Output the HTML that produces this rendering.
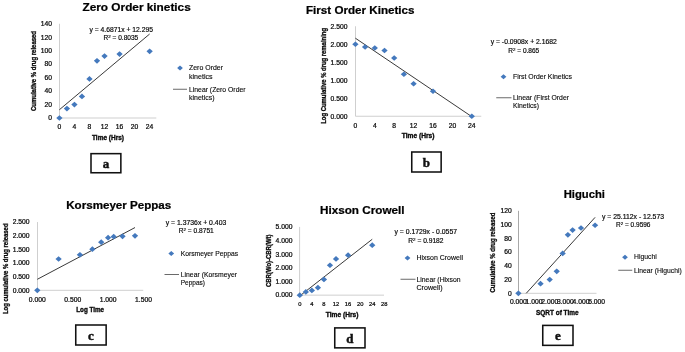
<!DOCTYPE html>
<html lang="en"><head><meta charset="utf-8"><title>Release kinetics</title>
<style>
html,body{margin:0;padding:0;background:#fff;}
body{width:685px;height:352px;overflow:hidden;}
svg{display:block;font-family:"Liberation Sans",sans-serif;filter:blur(0.35px);}
</style></head><body>
<svg width="685" height="352" viewBox="0 0 685 352">
<rect width="685" height="352" fill="#fff"/>
<text x="82.50" y="10.90" font-size="10.6" font-weight="bold" fill="#000" stroke="#000" stroke-width="0.22" textLength="108.25" lengthAdjust="spacingAndGlyphs">Zero Order kinetics</text>
<text transform="translate(36.40 111.00) rotate(-90)" x="0" y="0" font-size="6.8" font-weight="bold" fill="#0a0a0a" stroke="#0a0a0a" stroke-width="0.32" textLength="80.00" lengthAdjust="spacingAndGlyphs">Cumulative % drug released</text>
<line x1="59.50" y1="23.78" x2="59.50" y2="118.00" stroke="#cfcfcf" stroke-width="1"/>
<line x1="59.50" y1="118.00" x2="156.30" y2="118.00" stroke="#cfcfcf" stroke-width="1"/>
<text x="48.25" y="120.30" font-size="6.3" fill="#0a0a0a" stroke="#0a0a0a" stroke-width="0.22" textLength="3.75" lengthAdjust="spacingAndGlyphs">0</text>
<text x="44.50" y="106.84" font-size="6.3" fill="#0a0a0a" stroke="#0a0a0a" stroke-width="0.22" textLength="7.50" lengthAdjust="spacingAndGlyphs">20</text>
<text x="44.50" y="93.38" font-size="6.3" fill="#0a0a0a" stroke="#0a0a0a" stroke-width="0.22" textLength="7.50" lengthAdjust="spacingAndGlyphs">40</text>
<text x="44.50" y="79.92" font-size="6.3" fill="#0a0a0a" stroke="#0a0a0a" stroke-width="0.22" textLength="7.50" lengthAdjust="spacingAndGlyphs">60</text>
<text x="44.50" y="66.46" font-size="6.3" fill="#0a0a0a" stroke="#0a0a0a" stroke-width="0.22" textLength="7.50" lengthAdjust="spacingAndGlyphs">80</text>
<text x="40.75" y="53.00" font-size="6.3" fill="#0a0a0a" stroke="#0a0a0a" stroke-width="0.22" textLength="11.25" lengthAdjust="spacingAndGlyphs">100</text>
<text x="40.75" y="39.54" font-size="6.3" fill="#0a0a0a" stroke="#0a0a0a" stroke-width="0.22" textLength="11.25" lengthAdjust="spacingAndGlyphs">120</text>
<text x="40.75" y="26.08" font-size="6.3" fill="#0a0a0a" stroke="#0a0a0a" stroke-width="0.22" textLength="11.25" lengthAdjust="spacingAndGlyphs">140</text>
<text x="57.52" y="129.20" font-size="6.3" fill="#0a0a0a" stroke="#0a0a0a" stroke-width="0.22" textLength="3.75" lengthAdjust="spacingAndGlyphs">0</text>
<text x="72.56" y="129.20" font-size="6.3" fill="#0a0a0a" stroke="#0a0a0a" stroke-width="0.22" textLength="3.75" lengthAdjust="spacingAndGlyphs">4</text>
<text x="87.60" y="129.20" font-size="6.3" fill="#0a0a0a" stroke="#0a0a0a" stroke-width="0.22" textLength="3.75" lengthAdjust="spacingAndGlyphs">8</text>
<text x="100.77" y="129.20" font-size="6.3" fill="#0a0a0a" stroke="#0a0a0a" stroke-width="0.22" textLength="7.50" lengthAdjust="spacingAndGlyphs">12</text>
<text x="115.81" y="129.20" font-size="6.3" fill="#0a0a0a" stroke="#0a0a0a" stroke-width="0.22" textLength="7.50" lengthAdjust="spacingAndGlyphs">16</text>
<text x="130.85" y="129.20" font-size="6.3" fill="#0a0a0a" stroke="#0a0a0a" stroke-width="0.22" textLength="7.50" lengthAdjust="spacingAndGlyphs">20</text>
<text x="145.89" y="129.20" font-size="6.3" fill="#0a0a0a" stroke="#0a0a0a" stroke-width="0.22" textLength="7.50" lengthAdjust="spacingAndGlyphs">24</text>
<line x1="59.40" y1="109.73" x2="149.64" y2="34.02" stroke="#222" stroke-width="0.9"/>
<path d="M59.40 115.15L62.55 118.00L59.40 120.85L56.25 118.00Z" fill="#4479bd"/>
<path d="M66.92 105.73L70.07 108.58L66.92 111.43L63.77 108.58Z" fill="#4479bd"/>
<path d="M74.44 101.69L77.59 104.54L74.44 107.39L71.29 104.54Z" fill="#4479bd"/>
<path d="M81.96 93.61L85.11 96.46L81.96 99.31L78.81 96.46Z" fill="#4479bd"/>
<path d="M89.48 76.12L92.63 78.97L89.48 81.82L86.33 78.97Z" fill="#4479bd"/>
<path d="M97.00 57.94L100.15 60.79L97.00 63.64L93.85 60.79Z" fill="#4479bd"/>
<path d="M104.52 53.23L107.67 56.08L104.52 58.93L101.37 56.08Z" fill="#4479bd"/>
<path d="M119.56 51.21L122.71 54.06L119.56 56.91L116.41 54.06Z" fill="#4479bd"/>
<path d="M149.64 48.52L152.79 51.37L149.64 54.22L146.49 51.37Z" fill="#4479bd"/>
<text x="92.00" y="139.80" font-size="6.7" font-weight="bold" fill="#0a0a0a" stroke="#0a0a0a" stroke-width="0.35" textLength="32.00" lengthAdjust="spacingAndGlyphs">Time (Hrs)</text>
<text x="89.50" y="31.60" font-size="6.35" fill="#0a0a0a" stroke="#0a0a0a" stroke-width="0.18" textLength="63.50" lengthAdjust="spacingAndGlyphs">y = 4.6871x + 12.295</text>
<text x="103.50" y="40.30" font-size="6.35" fill="#0a0a0a" stroke="#0a0a0a" stroke-width="0.18" textLength="34.75" lengthAdjust="spacingAndGlyphs">R<tspan dy="-2.29" font-size="4.32">2</tspan><tspan dy="2.29"> = 0.8035</tspan></text>
<path d="M180.00 65.39L182.89 68.00L180.00 70.61L177.11 68.00Z" fill="#4479bd"/>
<text x="189.00" y="70.30" font-size="6.7" fill="#0a0a0a" stroke="#0a0a0a" stroke-width="0.12" textLength="34.00" lengthAdjust="spacingAndGlyphs">Zero Order</text>
<text x="189.00" y="78.50" font-size="6.7" fill="#0a0a0a" stroke="#0a0a0a" stroke-width="0.12" textLength="23.50" lengthAdjust="spacingAndGlyphs">kinetics</text>
<line x1="173.00" y1="89.25" x2="187.00" y2="89.25" stroke="#444" stroke-width="0.8"/>
<text x="189.00" y="91.50" font-size="6.7" fill="#0a0a0a" stroke="#0a0a0a" stroke-width="0.12" textLength="56.50" lengthAdjust="spacingAndGlyphs">Linear (Zero Order</text>
<text x="189.00" y="99.50" font-size="6.7" fill="#0a0a0a" stroke="#0a0a0a" stroke-width="0.12" textLength="25.50" lengthAdjust="spacingAndGlyphs">kinetics)</text>
<rect x="91.00" y="153.65" width="29.85" height="19.10" fill="#fff" stroke="#111" stroke-width="1.55"/>
<text x="105.92" y="168.10" font-size="13" font-weight="bold" font-family="'Liberation Serif', serif" text-anchor="middle" fill="#111" stroke="#111" stroke-width="0.45">a</text>
<text x="306.00" y="14.25" font-size="10.4" font-weight="bold" fill="#000" stroke="#000" stroke-width="0.22" textLength="108.50" lengthAdjust="spacingAndGlyphs">First Order Kinetics</text>
<text transform="translate(326.00 123.75) rotate(-90)" x="0" y="0" font-size="6.8" font-weight="bold" fill="#0a0a0a" stroke="#0a0a0a" stroke-width="0.32" textLength="95.75" lengthAdjust="spacingAndGlyphs">Log Cumulative % drug remaining</text>
<line x1="355.50" y1="26.25" x2="355.50" y2="116.25" stroke="#cfcfcf" stroke-width="1"/>
<line x1="355.50" y1="116.25" x2="481.25" y2="116.25" stroke="#cfcfcf" stroke-width="1"/>
<text x="330.60" y="118.55" font-size="6.3" fill="#0a0a0a" stroke="#0a0a0a" stroke-width="0.22" textLength="16.90" lengthAdjust="spacingAndGlyphs">0.000</text>
<text x="330.60" y="100.55" font-size="6.3" fill="#0a0a0a" stroke="#0a0a0a" stroke-width="0.22" textLength="16.90" lengthAdjust="spacingAndGlyphs">0.500</text>
<text x="330.60" y="82.55" font-size="6.3" fill="#0a0a0a" stroke="#0a0a0a" stroke-width="0.22" textLength="16.90" lengthAdjust="spacingAndGlyphs">1.000</text>
<text x="330.60" y="64.55" font-size="6.3" fill="#0a0a0a" stroke="#0a0a0a" stroke-width="0.22" textLength="16.90" lengthAdjust="spacingAndGlyphs">1.500</text>
<text x="330.60" y="46.55" font-size="6.3" fill="#0a0a0a" stroke="#0a0a0a" stroke-width="0.22" textLength="16.90" lengthAdjust="spacingAndGlyphs">2.000</text>
<text x="330.60" y="28.55" font-size="6.3" fill="#0a0a0a" stroke="#0a0a0a" stroke-width="0.22" textLength="16.90" lengthAdjust="spacingAndGlyphs">2.500</text>
<text x="353.52" y="127.65" font-size="6.3" fill="#0a0a0a" stroke="#0a0a0a" stroke-width="0.22" textLength="3.75" lengthAdjust="spacingAndGlyphs">0</text>
<text x="372.92" y="127.65" font-size="6.3" fill="#0a0a0a" stroke="#0a0a0a" stroke-width="0.22" textLength="3.75" lengthAdjust="spacingAndGlyphs">4</text>
<text x="392.32" y="127.65" font-size="6.3" fill="#0a0a0a" stroke="#0a0a0a" stroke-width="0.22" textLength="3.75" lengthAdjust="spacingAndGlyphs">8</text>
<text x="409.85" y="127.65" font-size="6.3" fill="#0a0a0a" stroke="#0a0a0a" stroke-width="0.22" textLength="7.50" lengthAdjust="spacingAndGlyphs">12</text>
<text x="429.25" y="127.65" font-size="6.3" fill="#0a0a0a" stroke="#0a0a0a" stroke-width="0.22" textLength="7.50" lengthAdjust="spacingAndGlyphs">16</text>
<text x="448.65" y="127.65" font-size="6.3" fill="#0a0a0a" stroke="#0a0a0a" stroke-width="0.22" textLength="7.50" lengthAdjust="spacingAndGlyphs">20</text>
<text x="468.05" y="127.65" font-size="6.3" fill="#0a0a0a" stroke="#0a0a0a" stroke-width="0.22" textLength="7.50" lengthAdjust="spacingAndGlyphs">24</text>
<line x1="355.40" y1="38.19" x2="471.80" y2="116.65" stroke="#222" stroke-width="0.9"/>
<path d="M355.40 41.40L358.55 44.25L355.40 47.10L352.25 44.25Z" fill="#4479bd"/>
<path d="M365.10 44.14L368.25 46.99L365.10 49.84L361.95 46.99Z" fill="#4479bd"/>
<path d="M374.80 45.14L377.95 47.99L374.80 50.84L371.65 47.99Z" fill="#4479bd"/>
<path d="M384.50 47.66L387.65 50.51L384.50 53.36L381.35 50.51Z" fill="#4479bd"/>
<path d="M394.20 55.15L397.35 58.00L394.20 60.85L391.05 58.00Z" fill="#4479bd"/>
<path d="M403.90 71.39L407.05 74.24L403.90 77.09L400.75 74.24Z" fill="#4479bd"/>
<path d="M413.60 80.89L416.75 83.74L413.60 86.59L410.45 83.74Z" fill="#4479bd"/>
<path d="M433.00 88.42L436.15 91.27L433.00 94.12L429.85 91.27Z" fill="#4479bd"/>
<path d="M471.80 113.40L474.95 116.25L471.80 119.10L468.65 116.25Z" fill="#4479bd"/>
<text x="401.75" y="137.80" font-size="6.7" font-weight="bold" fill="#0a0a0a" stroke="#0a0a0a" stroke-width="0.35" textLength="32.75" lengthAdjust="spacingAndGlyphs">Time (Hrs)</text>
<text x="490.75" y="44.10" font-size="6.35" fill="#0a0a0a" stroke="#0a0a0a" stroke-width="0.18" textLength="66.00" lengthAdjust="spacingAndGlyphs">y = -0.0908x + 2.1682</text>
<text x="508.25" y="52.80" font-size="6.35" fill="#0a0a0a" stroke="#0a0a0a" stroke-width="0.18" textLength="31.00" lengthAdjust="spacingAndGlyphs">R<tspan dy="-2.29" font-size="4.32">2</tspan><tspan dy="2.29"> = 0.865</tspan></text>
<path d="M503.50 74.14L506.39 76.75L503.50 79.36L500.61 76.75Z" fill="#4479bd"/>
<text x="513.00" y="78.75" font-size="6.7" fill="#0a0a0a" stroke="#0a0a0a" stroke-width="0.12" textLength="59.00" lengthAdjust="spacingAndGlyphs">First Order Kinetics</text>
<line x1="496.25" y1="97.75" x2="511.50" y2="97.75" stroke="#444" stroke-width="0.8"/>
<text x="513.00" y="100.00" font-size="6.7" fill="#0a0a0a" stroke="#0a0a0a" stroke-width="0.12" textLength="56.00" lengthAdjust="spacingAndGlyphs">Linear (First Order</text>
<text x="513.00" y="108.00" font-size="6.7" fill="#0a0a0a" stroke="#0a0a0a" stroke-width="0.12" textLength="26.00" lengthAdjust="spacingAndGlyphs">Kinetics)</text>
<rect x="411.75" y="152.00" width="29.40" height="20.00" fill="#fff" stroke="#111" stroke-width="1.55"/>
<text x="426.45" y="166.90" font-size="13" font-weight="bold" font-family="'Liberation Serif', serif" text-anchor="middle" fill="#111" stroke="#111" stroke-width="0.45">b</text>
<text x="66.25" y="209.00" font-size="10.4" font-weight="bold" fill="#000" stroke="#000" stroke-width="0.22" textLength="105.00" lengthAdjust="spacingAndGlyphs">Korsmeyer Peppas</text>
<text transform="translate(8.00 314.00) rotate(-90)" x="0" y="0" font-size="6.8" font-weight="bold" fill="#0a0a0a" stroke="#0a0a0a" stroke-width="0.32" textLength="90.50" lengthAdjust="spacingAndGlyphs">Log cumulative % drug released</text>
<line x1="37.50" y1="222.05" x2="37.50" y2="290.30" stroke="#cfcfcf" stroke-width="1"/>
<line x1="37.50" y1="290.30" x2="143.25" y2="290.30" stroke="#cfcfcf" stroke-width="1"/>
<text x="12.70" y="292.60" font-size="6.3" fill="#0a0a0a" stroke="#0a0a0a" stroke-width="0.22" textLength="16.90" lengthAdjust="spacingAndGlyphs">0.000</text>
<text x="12.70" y="278.95" font-size="6.3" fill="#0a0a0a" stroke="#0a0a0a" stroke-width="0.22" textLength="16.90" lengthAdjust="spacingAndGlyphs">0.500</text>
<text x="12.70" y="265.30" font-size="6.3" fill="#0a0a0a" stroke="#0a0a0a" stroke-width="0.22" textLength="16.90" lengthAdjust="spacingAndGlyphs">1.000</text>
<text x="12.70" y="251.65" font-size="6.3" fill="#0a0a0a" stroke="#0a0a0a" stroke-width="0.22" textLength="16.90" lengthAdjust="spacingAndGlyphs">1.500</text>
<text x="12.70" y="238.00" font-size="6.3" fill="#0a0a0a" stroke="#0a0a0a" stroke-width="0.22" textLength="16.90" lengthAdjust="spacingAndGlyphs">2.000</text>
<text x="12.70" y="224.35" font-size="6.3" fill="#0a0a0a" stroke="#0a0a0a" stroke-width="0.22" textLength="16.90" lengthAdjust="spacingAndGlyphs">2.500</text>
<text x="28.85" y="301.80" font-size="6.3" fill="#0a0a0a" stroke="#0a0a0a" stroke-width="0.22" textLength="16.90" lengthAdjust="spacingAndGlyphs">0.000</text>
<text x="64.25" y="301.80" font-size="6.3" fill="#0a0a0a" stroke="#0a0a0a" stroke-width="0.22" textLength="16.90" lengthAdjust="spacingAndGlyphs">0.500</text>
<text x="99.65" y="301.80" font-size="6.3" fill="#0a0a0a" stroke="#0a0a0a" stroke-width="0.22" textLength="16.90" lengthAdjust="spacingAndGlyphs">1.000</text>
<text x="135.05" y="301.80" font-size="6.3" fill="#0a0a0a" stroke="#0a0a0a" stroke-width="0.22" textLength="16.90" lengthAdjust="spacingAndGlyphs">1.500</text>
<line x1="37.30" y1="279.30" x2="135.00" y2="227.55" stroke="#222" stroke-width="0.9"/>
<path d="M37.30 287.45L40.45 290.30L37.30 293.15L34.15 290.30Z" fill="#4479bd"/>
<path d="M58.61 256.16L61.76 259.01L58.61 261.86L55.46 259.01Z" fill="#4479bd"/>
<path d="M79.92 251.93L83.07 254.78L79.92 257.63L76.77 254.78Z" fill="#4479bd"/>
<path d="M92.38 246.36L95.53 249.21L92.38 252.06L89.23 249.21Z" fill="#4479bd"/>
<path d="M101.23 239.32L104.38 242.17L101.23 245.02L98.08 242.17Z" fill="#4479bd"/>
<path d="M108.10 234.79L111.25 237.64L108.10 240.49L104.95 237.64Z" fill="#4479bd"/>
<path d="M113.69 233.83L116.84 236.68L113.69 239.53L110.54 236.68Z" fill="#4479bd"/>
<path d="M122.54 233.45L125.69 236.30L122.54 239.15L119.39 236.30Z" fill="#4479bd"/>
<path d="M135.00 232.96L138.15 235.81L135.00 238.66L131.85 235.81Z" fill="#4479bd"/>
<text x="76.25" y="312.00" font-size="6.7" font-weight="bold" fill="#0a0a0a" stroke="#0a0a0a" stroke-width="0.35" textLength="27.75" lengthAdjust="spacingAndGlyphs">Log Time</text>
<text x="165.75" y="224.60" font-size="6.35" fill="#0a0a0a" stroke="#0a0a0a" stroke-width="0.18" textLength="60.50" lengthAdjust="spacingAndGlyphs">y = 1.3736x + 0.403</text>
<text x="178.75" y="232.80" font-size="6.35" fill="#0a0a0a" stroke="#0a0a0a" stroke-width="0.18" textLength="35.00" lengthAdjust="spacingAndGlyphs">R<tspan dy="-2.29" font-size="4.32">2</tspan><tspan dy="2.29"> = 0.8751</tspan></text>
<path d="M171.25 250.89L174.14 253.50L171.25 256.11L168.36 253.50Z" fill="#4479bd"/>
<text x="180.75" y="255.50" font-size="6.7" fill="#0a0a0a" stroke="#0a0a0a" stroke-width="0.12" textLength="57.25" lengthAdjust="spacingAndGlyphs">Korsmeyer Peppas</text>
<line x1="164.50" y1="274.50" x2="179.00" y2="274.50" stroke="#444" stroke-width="0.8"/>
<text x="180.75" y="276.50" font-size="6.7" fill="#0a0a0a" stroke="#0a0a0a" stroke-width="0.12" textLength="56.25" lengthAdjust="spacingAndGlyphs">Linear (Korsmeyer</text>
<text x="180.75" y="284.50" font-size="6.7" fill="#0a0a0a" stroke="#0a0a0a" stroke-width="0.12" textLength="24.25" lengthAdjust="spacingAndGlyphs">Peppas)</text>
<rect x="75.75" y="325.00" width="30.40" height="20.00" fill="#fff" stroke="#111" stroke-width="1.55"/>
<text x="90.95" y="339.90" font-size="13" font-weight="bold" font-family="'Liberation Serif', serif" text-anchor="middle" fill="#111" stroke="#111" stroke-width="0.45">c</text>
<text x="320.00" y="214.25" font-size="10.8" font-weight="bold" fill="#000" stroke="#000" stroke-width="0.22" textLength="84.50" lengthAdjust="spacingAndGlyphs">Hixson Crowell</text>
<text transform="translate(270.70 287.00) rotate(-90)" x="0" y="0" font-size="6.8" font-weight="bold" fill="#0a0a0a" stroke="#0a0a0a" stroke-width="0.32" textLength="52.50" lengthAdjust="spacingAndGlyphs">CBR(Wo)-CBR(Wt)</text>
<line x1="299.60" y1="226.90" x2="299.60" y2="295.15" stroke="#cfcfcf" stroke-width="1"/>
<line x1="299.60" y1="295.15" x2="384.00" y2="295.15" stroke="#cfcfcf" stroke-width="1"/>
<text x="275.60" y="297.45" font-size="6.3" fill="#0a0a0a" stroke="#0a0a0a" stroke-width="0.22" textLength="16.90" lengthAdjust="spacingAndGlyphs">0.000</text>
<text x="275.60" y="283.80" font-size="6.3" fill="#0a0a0a" stroke="#0a0a0a" stroke-width="0.22" textLength="16.90" lengthAdjust="spacingAndGlyphs">1.000</text>
<text x="275.60" y="270.15" font-size="6.3" fill="#0a0a0a" stroke="#0a0a0a" stroke-width="0.22" textLength="16.90" lengthAdjust="spacingAndGlyphs">2.000</text>
<text x="275.60" y="256.50" font-size="6.3" fill="#0a0a0a" stroke="#0a0a0a" stroke-width="0.22" textLength="16.90" lengthAdjust="spacingAndGlyphs">3.000</text>
<text x="275.60" y="242.85" font-size="6.3" fill="#0a0a0a" stroke="#0a0a0a" stroke-width="0.22" textLength="16.90" lengthAdjust="spacingAndGlyphs">4.000</text>
<text x="275.60" y="229.20" font-size="6.3" fill="#0a0a0a" stroke="#0a0a0a" stroke-width="0.22" textLength="16.90" lengthAdjust="spacingAndGlyphs">5.000</text>
<text x="298.19" y="306.15" font-size="5.418" fill="#0a0a0a" stroke="#0a0a0a" stroke-width="0.22" textLength="3.23" lengthAdjust="spacingAndGlyphs">0</text>
<text x="310.26" y="306.15" font-size="5.418" fill="#0a0a0a" stroke="#0a0a0a" stroke-width="0.22" textLength="3.23" lengthAdjust="spacingAndGlyphs">4</text>
<text x="322.33" y="306.15" font-size="5.418" fill="#0a0a0a" stroke="#0a0a0a" stroke-width="0.22" textLength="3.23" lengthAdjust="spacingAndGlyphs">8</text>
<text x="332.79" y="306.15" font-size="5.418" fill="#0a0a0a" stroke="#0a0a0a" stroke-width="0.22" textLength="6.45" lengthAdjust="spacingAndGlyphs">12</text>
<text x="344.86" y="306.15" font-size="5.418" fill="#0a0a0a" stroke="#0a0a0a" stroke-width="0.22" textLength="6.45" lengthAdjust="spacingAndGlyphs">16</text>
<text x="356.94" y="306.15" font-size="5.418" fill="#0a0a0a" stroke="#0a0a0a" stroke-width="0.22" textLength="6.45" lengthAdjust="spacingAndGlyphs">20</text>
<text x="369.01" y="306.15" font-size="5.418" fill="#0a0a0a" stroke="#0a0a0a" stroke-width="0.22" textLength="6.45" lengthAdjust="spacingAndGlyphs">24</text>
<text x="381.08" y="306.15" font-size="5.418" fill="#0a0a0a" stroke="#0a0a0a" stroke-width="0.22" textLength="6.45" lengthAdjust="spacingAndGlyphs">28</text>
<line x1="299.80" y1="295.91" x2="372.23" y2="239.27" stroke="#222" stroke-width="0.9"/>
<path d="M299.80 292.30L302.95 295.15L299.80 298.00L296.65 295.15Z" fill="#4479bd"/>
<path d="M305.84 289.05L308.99 291.90L305.84 294.75L302.69 291.90Z" fill="#4479bd"/>
<path d="M311.87 287.55L315.02 290.40L311.87 293.25L308.72 290.40Z" fill="#4479bd"/>
<path d="M317.91 284.79L321.06 287.64L317.91 290.49L314.76 287.64Z" fill="#4479bd"/>
<path d="M323.94 276.55L327.09 279.40L323.94 282.25L320.79 279.40Z" fill="#4479bd"/>
<path d="M329.98 262.41L333.13 265.26L329.98 268.11L326.83 265.26Z" fill="#4479bd"/>
<path d="M336.02 256.06L339.17 258.91L336.02 261.76L332.87 258.91Z" fill="#4479bd"/>
<path d="M348.09 252.31L351.24 255.16L348.09 258.01L344.94 255.16Z" fill="#4479bd"/>
<path d="M372.23 242.34L375.38 245.19L372.23 248.04L369.08 245.19Z" fill="#4479bd"/>
<text x="325.75" y="317.25" font-size="6.7" font-weight="bold" fill="#0a0a0a" stroke="#0a0a0a" stroke-width="0.35" textLength="32.75" lengthAdjust="spacingAndGlyphs">Time (Hrs)</text>
<text x="394.50" y="234.05" font-size="6.35" fill="#0a0a0a" stroke="#0a0a0a" stroke-width="0.18" textLength="62.50" lengthAdjust="spacingAndGlyphs">y = 0.1729x - 0.0557</text>
<text x="408.25" y="243.05" font-size="6.35" fill="#0a0a0a" stroke="#0a0a0a" stroke-width="0.18" textLength="35.25" lengthAdjust="spacingAndGlyphs">R<tspan dy="-2.29" font-size="4.32">2</tspan><tspan dy="2.29"> = 0.9182</tspan></text>
<path d="M407.50 255.39L410.39 258.00L407.50 260.61L404.61 258.00Z" fill="#4479bd"/>
<text x="416.50" y="260.25" font-size="6.7" fill="#0a0a0a" stroke="#0a0a0a" stroke-width="0.12" textLength="46.50" lengthAdjust="spacingAndGlyphs">Hixson Crowell</text>
<line x1="400.50" y1="279.25" x2="415.50" y2="279.25" stroke="#444" stroke-width="0.8"/>
<text x="416.50" y="281.50" font-size="6.7" fill="#0a0a0a" stroke="#0a0a0a" stroke-width="0.12" textLength="44.00" lengthAdjust="spacingAndGlyphs">Linear (Hixson</text>
<text x="416.50" y="289.75" font-size="6.7" fill="#0a0a0a" stroke="#0a0a0a" stroke-width="0.12" textLength="26.00" lengthAdjust="spacingAndGlyphs">Crowell)</text>
<rect x="334.75" y="327.90" width="30.25" height="19.95" fill="#fff" stroke="#111" stroke-width="1.55"/>
<text x="349.88" y="342.77" font-size="13" font-weight="bold" font-family="'Liberation Serif', serif" text-anchor="middle" fill="#111" stroke="#111" stroke-width="0.45">d</text>
<text x="563.75" y="198.00" font-size="10.6" font-weight="bold" fill="#000" stroke="#000" stroke-width="0.22" textLength="41.25" lengthAdjust="spacingAndGlyphs">Higuchi</text>
<text transform="translate(495.40 292.50) rotate(-90)" x="0" y="0" font-size="6.8" font-weight="bold" fill="#0a0a0a" stroke="#0a0a0a" stroke-width="0.32" textLength="80.00" lengthAdjust="spacingAndGlyphs">Cumulative % drug released</text>
<line x1="518.50" y1="210.80" x2="518.50" y2="293.30" stroke="#a8a8a8" stroke-width="1"/>
<line x1="518.50" y1="293.30" x2="596.50" y2="293.30" stroke="#cfcfcf" stroke-width="1"/>
<text x="508.00" y="295.60" font-size="6.3" fill="#0a0a0a" stroke="#0a0a0a" stroke-width="0.22" textLength="3.75" lengthAdjust="spacingAndGlyphs">0</text>
<text x="504.25" y="281.85" font-size="6.3" fill="#0a0a0a" stroke="#0a0a0a" stroke-width="0.22" textLength="7.50" lengthAdjust="spacingAndGlyphs">20</text>
<text x="504.25" y="268.10" font-size="6.3" fill="#0a0a0a" stroke="#0a0a0a" stroke-width="0.22" textLength="7.50" lengthAdjust="spacingAndGlyphs">40</text>
<text x="504.25" y="254.35" font-size="6.3" fill="#0a0a0a" stroke="#0a0a0a" stroke-width="0.22" textLength="7.50" lengthAdjust="spacingAndGlyphs">60</text>
<text x="504.25" y="240.60" font-size="6.3" fill="#0a0a0a" stroke="#0a0a0a" stroke-width="0.22" textLength="7.50" lengthAdjust="spacingAndGlyphs">80</text>
<text x="500.50" y="226.85" font-size="6.3" fill="#0a0a0a" stroke="#0a0a0a" stroke-width="0.22" textLength="11.25" lengthAdjust="spacingAndGlyphs">100</text>
<text x="500.50" y="213.10" font-size="6.3" fill="#0a0a0a" stroke="#0a0a0a" stroke-width="0.22" textLength="11.25" lengthAdjust="spacingAndGlyphs">120</text>
<text x="509.95" y="304.15" font-size="6.3" fill="#0a0a0a" stroke="#0a0a0a" stroke-width="0.22" textLength="16.90" lengthAdjust="spacingAndGlyphs">0.000</text>
<text x="525.60" y="304.15" font-size="6.3" fill="#0a0a0a" stroke="#0a0a0a" stroke-width="0.22" textLength="16.90" lengthAdjust="spacingAndGlyphs">1.000</text>
<text x="541.25" y="304.15" font-size="6.3" fill="#0a0a0a" stroke="#0a0a0a" stroke-width="0.22" textLength="16.90" lengthAdjust="spacingAndGlyphs">2.000</text>
<text x="556.90" y="304.15" font-size="6.3" fill="#0a0a0a" stroke="#0a0a0a" stroke-width="0.22" textLength="16.90" lengthAdjust="spacingAndGlyphs">3.000</text>
<text x="572.55" y="304.15" font-size="6.3" fill="#0a0a0a" stroke="#0a0a0a" stroke-width="0.22" textLength="16.90" lengthAdjust="spacingAndGlyphs">4.000</text>
<text x="588.20" y="304.15" font-size="6.3" fill="#0a0a0a" stroke="#0a0a0a" stroke-width="0.22" textLength="16.90" lengthAdjust="spacingAndGlyphs">5.000</text>
<line x1="526.24" y1="293.30" x2="595.07" y2="217.37" stroke="#222" stroke-width="0.9"/>
<path d="M518.40 290.45L521.55 293.30L518.40 296.15L515.25 293.30Z" fill="#4479bd"/>
<path d="M540.53 280.82L543.68 283.68L540.53 286.53L537.38 283.68Z" fill="#4479bd"/>
<path d="M549.70 276.70L552.85 279.55L549.70 282.40L546.55 279.55Z" fill="#4479bd"/>
<path d="M556.73 268.45L559.88 271.30L556.73 274.15L553.58 271.30Z" fill="#4479bd"/>
<path d="M562.66 250.58L565.81 253.43L562.66 256.28L559.51 253.43Z" fill="#4479bd"/>
<path d="M567.89 232.01L571.04 234.86L567.89 237.71L564.74 234.86Z" fill="#4479bd"/>
<path d="M572.61 227.20L575.76 230.05L572.61 232.90L569.46 230.05Z" fill="#4479bd"/>
<path d="M581.00 225.14L584.15 227.99L581.00 230.84L577.85 227.99Z" fill="#4479bd"/>
<path d="M595.07 222.39L598.22 225.24L595.07 228.09L591.92 225.24Z" fill="#4479bd"/>
<text x="536.00" y="314.50" font-size="6.7" font-weight="bold" fill="#0a0a0a" stroke="#0a0a0a" stroke-width="0.35" textLength="42.50" lengthAdjust="spacingAndGlyphs">SQRT of Time</text>
<text x="602.00" y="218.55" font-size="6.35" fill="#0a0a0a" stroke="#0a0a0a" stroke-width="0.18" textLength="62.00" lengthAdjust="spacingAndGlyphs">y = 25.112x - 12.573</text>
<text x="616.00" y="227.30" font-size="6.35" fill="#0a0a0a" stroke="#0a0a0a" stroke-width="0.18" textLength="34.50" lengthAdjust="spacingAndGlyphs">R<tspan dy="-2.29" font-size="4.32">2</tspan><tspan dy="2.29"> = 0.9596</tspan></text>
<path d="M625.00 254.64L627.89 257.25L625.00 259.86L622.11 257.25Z" fill="#4479bd"/>
<text x="634.00" y="259.25" font-size="6.7" fill="#0a0a0a" stroke="#0a0a0a" stroke-width="0.12" textLength="22.75" lengthAdjust="spacingAndGlyphs">Higuchi</text>
<line x1="618.25" y1="270.25" x2="632.25" y2="270.25" stroke="#444" stroke-width="0.8"/>
<text x="634.00" y="272.50" font-size="6.7" fill="#0a0a0a" stroke="#0a0a0a" stroke-width="0.12" textLength="47.75" lengthAdjust="spacingAndGlyphs">Linear (Higuchi)</text>
<rect x="542.75" y="325.40" width="30.25" height="19.95" fill="#fff" stroke="#111" stroke-width="1.55"/>
<text x="557.88" y="340.27" font-size="13" font-weight="bold" font-family="'Liberation Serif', serif" text-anchor="middle" fill="#111" stroke="#111" stroke-width="0.45">e</text>
</svg>
</body></html>
